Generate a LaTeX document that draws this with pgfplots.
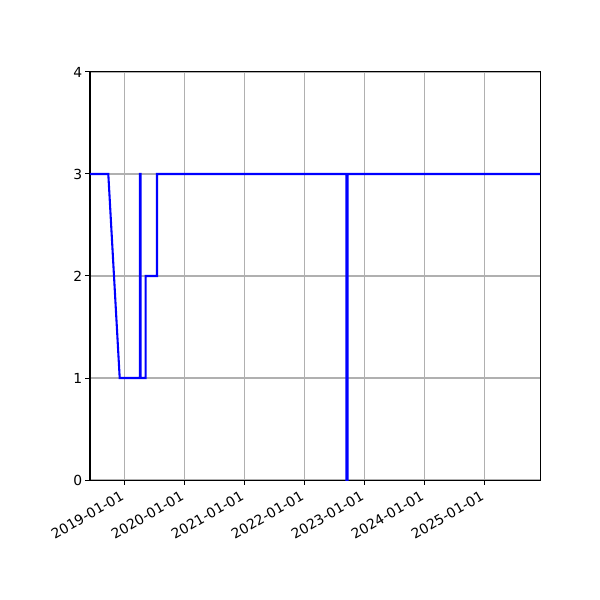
\documentclass[border=0pt]{standalone}
\usepackage{pgfplots}
\pgfplotsset{compat=1.18}
\usepackage{fontspec}
\setmainfont{DejaVu Sans}

\begin{document}
\begin{tikzpicture}
\useasboundingbox (-67.5pt,-90pt) rectangle (382.5pt,360pt);
\begin{axis}[
    at={(0,0)}, anchor=south west,
    scale only axis,
    width=337.5pt, height=306pt,
    xmin=2018.425, xmax=2025.925,
    ymin=0, ymax=4,
    xtick={2019,2020,2021,2022,2023,2024,2025},
    xticklabels={2019-01-01,2020-01-01,2021-01-01,2022-01-01,2023-01-01,2024-01-01,2025-01-01},
    ytick={0,1,2,3,4},
    grid=major,
    grid style={color=black!31, line width=0.8pt},
    axis line style={line width=0.75pt},
    tick style={black, line width=0.75pt},
    tick align=outside,
    major tick length=3.65pt,
    tick pos=left,
    /pgf/number format/assume math mode=true,
    ticklabel style={font=\fontsize{10.4}{12}\selectfont},
    xticklabel style={rotate=30, anchor=north east, inner sep=1.5pt, xshift=-3.5pt},
    yticklabel style={inner sep=2pt},
]
\addplot[color=blue, line width=1.56pt] coordinates {
    (2018.425,3) (2018.73,3) (2018.92,1) (2019.255,1) (2019.255,3)
    (2019.268,3) (2019.268,1) (2019.353,1) (2019.353,2) (2019.542,2)
    (2019.542,3) (2022.698,3) (2022.698,0) (2022.718,0) (2022.718,3)
    (2025.925,3)
};
\end{axis}
\end{tikzpicture}
\end{document}
